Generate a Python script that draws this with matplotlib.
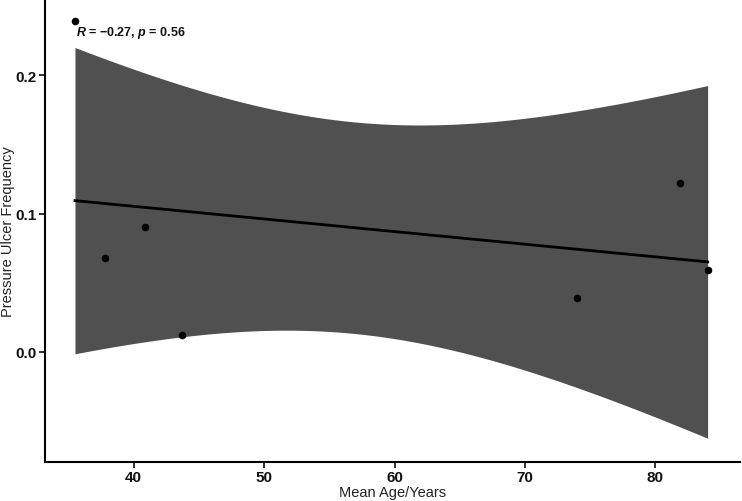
import matplotlib
matplotlib.use("Agg")
import matplotlib.pyplot as plt
import numpy as np

plt.rcParams['font.family'] = ['Liberation Sans', 'DejaVu Sans']
plt.rcParams['mathtext.fontset'] = 'custom'
plt.rcParams['mathtext.it'] = 'Liberation Sans:italic:bold'
plt.rcParams['mathtext.rm'] = 'Liberation Sans:bold'

# data
mean_age = np.array([35.5, 37.8, 40.9, 43.7, 74.0, 81.9, 84.0])
ulcer_freq = np.array([0.239, 0.068, 0.090, 0.012, 0.039, 0.122, 0.059])
r_label = "$R$ = \u22120.27, $p$ = 0.56"

# linear fit + 95% confidence band (like geom_smooth(method="lm"))
n = len(mean_age)
slope, intercept = np.polyfit(mean_age, ulcer_freq, 1)
xs = np.linspace(mean_age.min(), mean_age.max(), 200)
fit = intercept + slope * xs
resid = ulcer_freq - (intercept + slope * mean_age)
s = np.sqrt(np.sum(resid ** 2) / (n - 2))
sxx = np.sum((mean_age - mean_age.mean()) ** 2)
t_crit = 2.5706  # t(0.975, df=5)
se = s * np.sqrt(1 / n + (xs - mean_age.mean()) ** 2 / sxx)

fig = plt.figure(figsize=(7.42, 5.02), dpi=100)
ax = fig.add_axes([0.0606, 0.0777, 0.937, 0.9223])

ax.fill_between(xs, fit - t_crit * se, fit + t_crit * se, color='#505050', lw=0, zorder=1)
ax.plot(xs, fit, color='black', lw=2, zorder=2)
ax.scatter(mean_age, ulcer_freq, s=30, color='black', zorder=3, lw=0)

ax.text(35.6, 0.2315, r_label, ha='left', va='center', fontsize=9,
        fontweight='bold', color='#111111')

ax.set_xlim(33.2, 86.5)
ax.set_ylim(-0.0795, 0.255)
ax.set_xticks([40, 50, 60, 70, 80])
ax.set_yticks([0.0, 0.1, 0.2])
ax.set_yticklabels(['0.0', '0.1', '0.2'])

for side in ['top', 'right']:
    ax.spines[side].set_visible(False)
for side in ['left', 'bottom']:
    ax.spines[side].set_linewidth(1.5)
ax.tick_params(direction='out', length=4, width=1.2, labelsize=11, pad=2,
               colors='#111111')
for lbl in ax.get_xticklabels() + ax.get_yticklabels():
    lbl.set_fontweight('bold')

ax.set_xlabel("Mean Age/Years", fontsize=10.5, color='#222222')
ax.set_ylabel("Pressure Ulcer Frequency", fontsize=10.5, color='#222222')
ax.xaxis.set_label_coords(0.5, -0.050)
ax.yaxis.set_label_coords(-0.043, 0.5)

fig.savefig("out.png", dpi=100)
